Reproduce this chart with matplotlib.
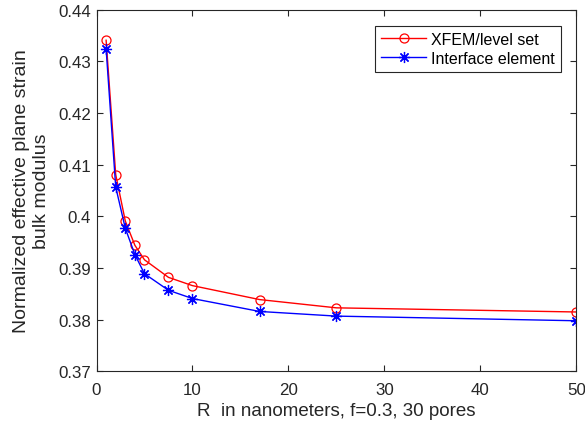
import matplotlib
matplotlib.use("Agg")
import matplotlib.pyplot as plt

# pore radius R (nm)
radius = [1, 2, 3, 4, 5, 7.5, 10, 17, 25, 50]
# normalized effective plane strain bulk modulus
xfem = [0.4341, 0.4081, 0.3991, 0.3944, 0.3916, 0.3882, 0.3866, 0.3839, 0.3823, 0.3815]
interface = [0.4324, 0.4057, 0.3977, 0.3926, 0.3889, 0.3857, 0.3841, 0.3816, 0.3807, 0.3798]

xticks = [0, 10, 20, 30, 40, 50]
yticks = [0.37, 0.38, 0.39, 0.4, 0.41, 0.42, 0.43, 0.44]
ytick_labels = ["0.37", "0.38", "0.39", "0.4", "0.41", "0.42", "0.43", "0.44"]

plt.rcParams['font.family'] = ['Liberation Sans', 'DejaVu Sans']

fig = plt.figure(figsize=(5.85, 4.31), dpi=100)
ax = fig.add_axes([0.165, 0.136, 0.82, 0.839])

ax.plot(radius, xfem, color='red', lw=1, marker='o', ms=6.5,
        mfc='none', mec='red', mew=0.9, label='XFEM/level set')
ax.plot(radius, interface, color='blue', lw=1, marker=(8, 2, 0), ms=8,
        mec='blue', mew=0.9, label='Interface element')

ax.set_xlim(0, 50)
ax.set_ylim(0.37, 0.44)
ax.set_xticks(xticks)
ax.set_yticks(yticks)
ax.set_yticklabels(ytick_labels)

dark = '#262626'
for s in ax.spines.values():
    s.set_color(dark)
    s.set_linewidth(0.8)
ax.tick_params(direction='in', top=True, right=True, length=4, width=0.8,
               colors=dark, labelsize=12.2)
ax.tick_params(axis='x', pad=8)
ax.tick_params(axis='y', pad=4)

ax.set_xlabel('R  in nanometers, f=0.3, 30 pores', fontsize=13.5, color=dark, labelpad=3)
ax.set_ylabel('Normalized effective plane strain\nbulk modulus', fontsize=14,
              color=dark, labelpad=6, linespacing=1.25)

leg = ax.legend(loc='upper right', bbox_to_anchor=(0.975, 0.965), fontsize=11.5,
                frameon=True, fancybox=False, edgecolor=dark, framealpha=1,
                handlelength=2.8, borderpad=0.4, labelspacing=0.25,
                handletextpad=0.3, borderaxespad=0.2)
leg.get_frame().set_linewidth(0.8)

fig.savefig('out.png', dpi=100)
